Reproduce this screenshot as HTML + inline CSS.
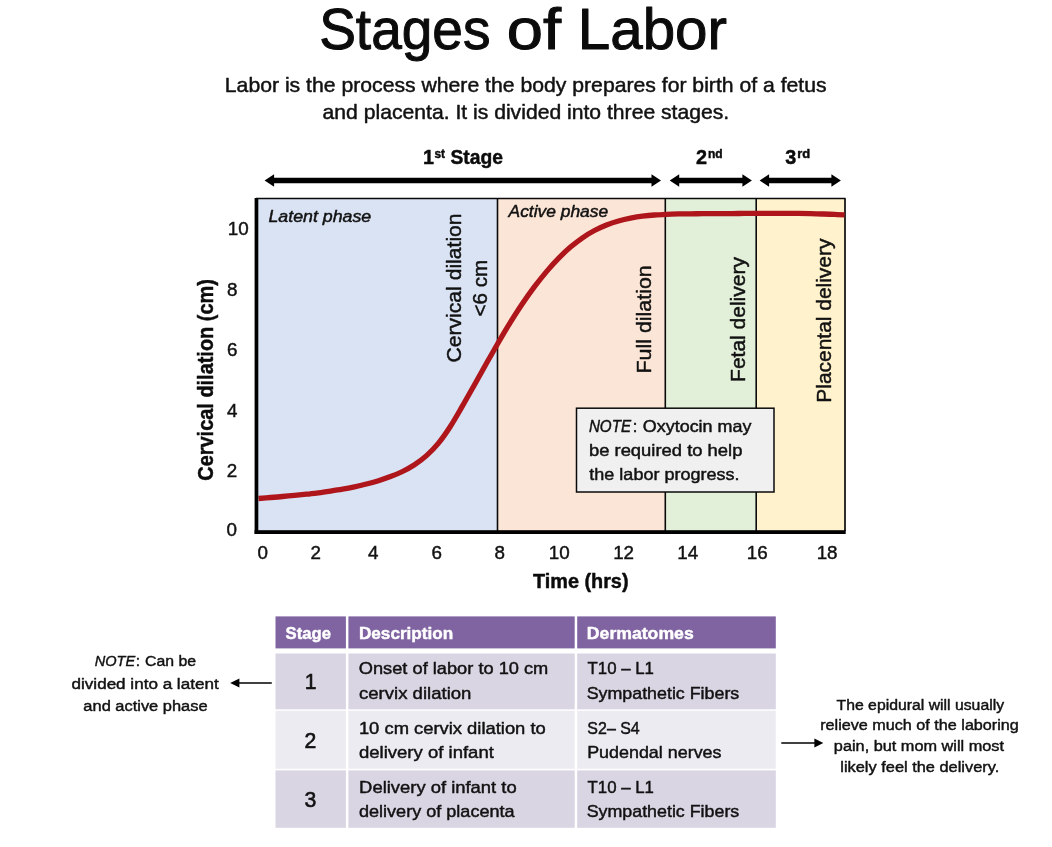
<!DOCTYPE html>
<html lang="en"><head><meta charset="utf-8"><title>Stages of Labor</title>
<style>html,body{margin:0;padding:0;background:#fff}svg{display:block;filter:blur(0.4px)}text{font-family:'Liberation Sans', sans-serif;white-space:pre;paint-order:stroke;stroke-linejoin:round}</style></head><body>
<svg width="1052" height="847" viewBox="0 0 1052 847">
<rect width="1052" height="847" fill="#fff"/>
<rect x="256" y="198.5" width="241.5" height="332.5" fill="#dae3f3"/>
<rect x="497.5" y="198.5" width="167.8" height="332.5" fill="#fbe5d6"/>
<rect x="665.3" y="198.5" width="90.9" height="332.5" fill="#e2f0d9"/>
<rect x="756.2" y="198.5" width="88.8" height="332.5" fill="#fff2cc"/>
<line x1="497.5" y1="198.5" x2="497.5" y2="531" stroke="#0a0a0a" stroke-width="1.6"/>
<line x1="665.3" y1="198.5" x2="665.3" y2="531" stroke="#0a0a0a" stroke-width="1.6"/>
<line x1="756.2" y1="198.5" x2="756.2" y2="531" stroke="#0a0a0a" stroke-width="1.6"/>
<line x1="256" y1="198.5" x2="845.6" y2="198.5" stroke="#0a0a0a" stroke-width="1.6"/>
<line x1="845" y1="198.5" x2="845" y2="531" stroke="#0a0a0a" stroke-width="1.7"/>
<path d="M258.5,498.5 C260.5,498.3 266.5,497.8 270.5,497.5 C274.5,497.2 278.5,496.9 282.5,496.5 C286.5,496.1 290.5,495.8 294.5,495.4 C298.5,495.0 302.5,494.6 306.5,494.2 C310.5,493.8 314.5,493.3 318.5,492.8 C322.5,492.3 326.5,491.7 330.5,491.1 C334.5,490.5 338.5,489.9 342.5,489.2 C346.5,488.5 350.5,487.7 354.5,486.8 C358.5,485.9 362.5,485.0 366.5,484.0 C370.5,483.0 374.5,481.9 378.5,480.7 C382.5,479.5 386.5,478.1 390.5,476.6 C394.5,475.1 398.5,473.5 402.5,471.5 C406.5,469.5 410.5,467.3 414.5,464.7 C418.5,462.1 422.5,459.2 426.5,455.6 C430.5,452.0 434.5,448.0 438.5,443.1 C442.5,438.2 446.5,432.4 450.5,426.2 C454.5,420.0 458.5,412.8 462.5,405.9 C466.5,399.0 470.5,391.8 474.5,384.7 C478.5,377.6 482.5,370.4 486.5,363.3 C490.5,356.2 494.5,349.2 498.5,342.3 C502.5,335.4 506.5,328.6 510.5,322.2 C514.5,315.8 518.5,309.5 522.5,303.6 C526.5,297.7 530.5,292.0 534.5,286.7 C538.5,281.4 542.5,276.3 546.5,271.6 C550.5,266.9 554.5,262.5 558.5,258.4 C562.5,254.3 566.5,250.5 570.5,247.1 C574.5,243.7 578.5,240.6 582.5,237.8 C586.5,235.0 590.5,232.6 594.5,230.5 C598.5,228.4 602.5,226.6 606.5,225.0 C610.5,223.4 614.5,222.1 618.5,221.0 C622.5,219.9 626.5,219.0 630.5,218.2 C634.5,217.4 638.5,216.7 642.5,216.2 C646.5,215.7 650.5,215.3 654.5,215.0 C658.5,214.7 662.5,214.5 666.5,214.3 C670.5,214.1 674.5,214.0 678.5,213.9 C682.5,213.8 686.5,213.8 690.5,213.8 C694.5,213.8 698.5,213.7 702.5,213.7 C706.5,213.7 710.5,213.7 714.5,213.7 C718.5,213.7 722.5,213.6 726.5,213.6 C730.5,213.6 734.5,213.5 738.5,213.5 C742.5,213.5 746.5,213.4 750.5,213.4 C754.5,213.4 758.5,213.3 762.5,213.3 C766.5,213.3 770.5,213.3 774.5,213.3 C778.5,213.3 782.5,213.3 786.5,213.3 C790.5,213.3 794.5,213.3 798.5,213.4 C802.5,213.5 806.5,213.6 810.5,213.7 C814.5,213.8 818.5,213.9 822.5,214.0 C826.5,214.1 830.8,214.2 834.5,214.4 C838.2,214.6 842.8,214.8 844.5,214.9" fill="none" stroke="#ae161b" stroke-width="5.3" stroke-linejoin="round"/>
<rect x="254.6" y="198" width="3.7" height="336" fill="#000"/>
<rect x="254.6" y="530.2" width="591.1" height="3.8" fill="#000"/>
<rect x="576.5" y="408.2" width="197.5" height="83.8" fill="#f0f0f0" stroke="#0a0a0a" stroke-width="1.5"/>
<polygon fill="#000" points="264.6,180.4 274.1,174.2 274.1,177.7 651.5,177.7 651.5,174.2 661.0,180.4 651.5,186.7 651.5,183.2 274.1,183.2 274.1,186.7"/>
<polygon fill="#000" points="669.7,180.4 679.2,174.2 679.2,177.7 742.4,177.7 742.4,174.2 751.9,180.4 742.4,186.7 742.4,183.2 679.2,183.2 679.2,186.7"/>
<polygon fill="#000" points="759.6,180.4 769.1,174.2 769.1,177.7 831.4,177.7 831.4,174.2 840.9,180.4 831.4,186.7 831.4,183.2 769.1,183.2 769.1,186.7"/>
<rect x="275.5" y="616.4" width="70.4" height="32.0" fill="#8064a2"/>
<rect x="348.4" y="616.4" width="226.3" height="32.0" fill="#8064a2"/>
<rect x="577.2" y="616.4" width="198.6" height="32.0" fill="#8064a2"/>
<rect x="275.5" y="653.5" width="70.4" height="55.8" fill="#d9d5e3"/>
<rect x="348.4" y="653.5" width="226.3" height="55.8" fill="#d9d5e3"/>
<rect x="577.2" y="653.5" width="198.6" height="55.8" fill="#d9d5e3"/>
<rect x="275.5" y="710.8" width="70.4" height="58.0" fill="#ecebf2"/>
<rect x="348.4" y="710.8" width="226.3" height="58.0" fill="#ecebf2"/>
<rect x="577.2" y="710.8" width="198.6" height="58.0" fill="#ecebf2"/>
<rect x="275.5" y="770.4" width="70.4" height="57.4" fill="#d9d5e3"/>
<rect x="348.4" y="770.4" width="226.3" height="57.4" fill="#d9d5e3"/>
<rect x="577.2" y="770.4" width="198.6" height="57.4" fill="#d9d5e3"/>
<line x1="236" y1="683" x2="271.8" y2="683" stroke="#000" stroke-width="1.5"/>
<polygon points="230.2,683 239.4,678.6 239.4,687.4" fill="#000"/>
<line x1="781.3" y1="743" x2="816" y2="743" stroke="#000" stroke-width="1.5"/>
<polygon points="823.3,742.9 814.4,738.4 814.4,747.4" fill="#000"/>
<text id="t1" x="319.17" y="48.5" font-size="58" font-weight="normal" font-style="normal" fill="#0b0b0b" stroke="#0b0b0b" stroke-width="1.0" textLength="171.32" lengthAdjust="spacingAndGlyphs">Stages</text>
<text id="t2" x="506.89" y="48.5" font-size="58" font-weight="normal" font-style="normal" fill="#0b0b0b" stroke="#0b0b0b" stroke-width="1.0" textLength="54.26" lengthAdjust="spacingAndGlyphs">of</text>
<text id="t3" x="577.76" y="48.5" font-size="58" font-weight="normal" font-style="normal" fill="#0b0b0b" stroke="#0b0b0b" stroke-width="1.0" textLength="149.24" lengthAdjust="spacingAndGlyphs">Labor</text>
<text id="sub1" x="224.84" y="92.2" font-size="19.8" font-weight="normal" font-style="normal" fill="#111" stroke="#111" stroke-width="0.45" textLength="601.81" lengthAdjust="spacingAndGlyphs">Labor is the process where the body prepares for birth of a fetus</text>
<text id="sub2" x="322.58" y="119.2" font-size="19.8" font-weight="normal" font-style="normal" fill="#111" stroke="#111" stroke-width="0.45" textLength="406.64" lengthAdjust="spacingAndGlyphs">and placenta. It is divided into three stages.</text>
<text id="s1a" x="428.50" y="164.3" font-size="19.8" font-weight="bold" font-style="normal" fill="#0b0b0b" stroke="#0b0b0b" stroke-width="0.45" text-anchor="middle">1</text>
<text id="s1b" x="434.44" y="157.9" font-size="12.6" font-weight="bold" font-style="normal" fill="#0b0b0b" stroke="#0b0b0b" stroke-width="0.45" textLength="10.51" lengthAdjust="spacingAndGlyphs">st</text>
<text id="s1c" x="450.46" y="164.3" font-size="19.8" font-weight="bold" font-style="normal" fill="#0b0b0b" stroke="#0b0b0b" stroke-width="0.45" textLength="52.47" lengthAdjust="spacingAndGlyphs">Stage</text>
<text id="s2a" x="701.60" y="164.4" font-size="19.8" font-weight="bold" font-style="normal" fill="#0b0b0b" stroke="#0b0b0b" stroke-width="0.45" text-anchor="middle">2</text>
<text id="s2b" x="707.95" y="158.1" font-size="12.6" font-weight="bold" font-style="normal" fill="#0b0b0b" stroke="#0b0b0b" stroke-width="0.45" textLength="14.72" lengthAdjust="spacingAndGlyphs">nd</text>
<text id="s3a" x="790.75" y="164.4" font-size="19.8" font-weight="bold" font-style="normal" fill="#0b0b0b" stroke="#0b0b0b" stroke-width="0.45" text-anchor="middle">3</text>
<text id="s3b" x="797.25" y="158.1" font-size="12.6" font-weight="bold" font-style="normal" fill="#0b0b0b" stroke="#0b0b0b" stroke-width="0.45" textLength="12.91" lengthAdjust="spacingAndGlyphs">rd</text>
<text id="latent" x="268.47" y="221.7" font-size="16" font-weight="normal" font-style="italic" fill="#111" stroke="#111" stroke-width="0.45" textLength="102.72" lengthAdjust="spacingAndGlyphs">Latent phase</text>
<text id="active" x="508.58" y="217.2" font-size="16" font-weight="normal" font-style="italic" fill="#111" stroke="#111" stroke-width="0.45" textLength="99.55" lengthAdjust="spacingAndGlyphs">Active phase</text>
<text id="y10" x="238.15" y="235.2" font-size="18.8" font-weight="normal" font-style="normal" fill="#111" stroke="#111" stroke-width="0.45" text-anchor="middle">10</text>
<text id="y8" x="232.30" y="296.2" font-size="18.8" font-weight="normal" font-style="normal" fill="#111" stroke="#111" stroke-width="0.45" text-anchor="middle">8</text>
<text id="y6" x="232.30" y="356.4" font-size="18.8" font-weight="normal" font-style="normal" fill="#111" stroke="#111" stroke-width="0.45" text-anchor="middle">6</text>
<text id="y4" x="232.20" y="416.6" font-size="18.8" font-weight="normal" font-style="normal" fill="#111" stroke="#111" stroke-width="0.45" text-anchor="middle">4</text>
<text id="y2" x="231.90" y="476.9" font-size="18.8" font-weight="normal" font-style="normal" fill="#111" stroke="#111" stroke-width="0.45" text-anchor="middle">2</text>
<text id="y0" x="231.80" y="536.0" font-size="18.8" font-weight="normal" font-style="normal" fill="#111" stroke="#111" stroke-width="0.45" text-anchor="middle">0</text>
<text id="x0" x="262.70" y="559.2" font-size="18.8" font-weight="normal" font-style="normal" fill="#111" stroke="#111" stroke-width="0.45" text-anchor="middle">0</text>
<text id="x2" x="315.65" y="559.2" font-size="18.8" font-weight="normal" font-style="normal" fill="#111" stroke="#111" stroke-width="0.45" text-anchor="middle">2</text>
<text id="x4" x="373.35" y="559.2" font-size="18.8" font-weight="normal" font-style="normal" fill="#111" stroke="#111" stroke-width="0.45" text-anchor="middle">4</text>
<text id="x6" x="436.85" y="559.2" font-size="18.8" font-weight="normal" font-style="normal" fill="#111" stroke="#111" stroke-width="0.45" text-anchor="middle">6</text>
<text id="x8" x="499.70" y="559.2" font-size="18.8" font-weight="normal" font-style="normal" fill="#111" stroke="#111" stroke-width="0.45" text-anchor="middle">8</text>
<text id="x10" x="559.15" y="559.2" font-size="18.8" font-weight="normal" font-style="normal" fill="#111" stroke="#111" stroke-width="0.45" text-anchor="middle">10</text>
<text id="x12" x="623.60" y="559.2" font-size="18.8" font-weight="normal" font-style="normal" fill="#111" stroke="#111" stroke-width="0.45" text-anchor="middle">12</text>
<text id="x14" x="687.80" y="559.2" font-size="18.8" font-weight="normal" font-style="normal" fill="#111" stroke="#111" stroke-width="0.45" text-anchor="middle">14</text>
<text id="x16" x="757.20" y="559.2" font-size="18.8" font-weight="normal" font-style="normal" fill="#111" stroke="#111" stroke-width="0.45" text-anchor="middle">16</text>
<text id="x18" x="827.10" y="559.2" font-size="18.8" font-weight="normal" font-style="normal" fill="#111" stroke="#111" stroke-width="0.45" text-anchor="middle">18</text>
<text id="time" x="532.99" y="588.2" font-size="19.8" font-weight="bold" font-style="normal" fill="#0b0b0b" stroke="#0b0b0b" stroke-width="0.45" textLength="95.52" lengthAdjust="spacingAndGlyphs">Time (hrs)</text>
<text id="n1a" x="588.91" y="431.5" font-size="16.5" font-weight="normal" font-style="italic" fill="#111" stroke="#111" stroke-width="0.45" textLength="42.16" lengthAdjust="spacingAndGlyphs">NOTE</text>
<text id="n1b" x="635.00" y="431.5" font-size="16.5" font-weight="normal" font-style="normal" fill="#111" stroke="#111" stroke-width="0.45" text-anchor="middle">:</text>
<text id="n1c" x="642.89" y="431.5" font-size="16.5" font-weight="normal" font-style="normal" fill="#111" stroke="#111" stroke-width="0.45" textLength="108.51" lengthAdjust="spacingAndGlyphs">Oxytocin may</text>
<text id="n2" x="588.93" y="455.7" font-size="16.5" font-weight="normal" font-style="normal" fill="#111" stroke="#111" stroke-width="0.45" textLength="153.51" lengthAdjust="spacingAndGlyphs">be required to help</text>
<text id="n3" x="589.34" y="479.9" font-size="16.5" font-weight="normal" font-style="normal" fill="#111" stroke="#111" stroke-width="0.45" textLength="150.14" lengthAdjust="spacingAndGlyphs">the labor progress.</text>
<text id="th1" x="285.62" y="639.2" font-size="17" font-weight="bold" font-style="normal" fill="#fff" stroke="#fff" stroke-width="0.45" textLength="45.31" lengthAdjust="spacingAndGlyphs">Stage</text>
<text id="th2" x="358.94" y="639.2" font-size="17" font-weight="bold" font-style="normal" fill="#fff" stroke="#fff" stroke-width="0.45" textLength="94.33" lengthAdjust="spacingAndGlyphs">Description</text>
<text id="th3" x="586.84" y="639.2" font-size="17" font-weight="bold" font-style="normal" fill="#fff" stroke="#fff" stroke-width="0.45" textLength="106.90" lengthAdjust="spacingAndGlyphs">Dermatomes</text>
<text id="r1n" x="310.75" y="689.4" font-size="21.2" font-weight="normal" font-style="normal" fill="#111" stroke="#111" stroke-width="0.6" text-anchor="middle">1</text>
<text id="r1a" x="358.80" y="674.4" font-size="17" font-weight="normal" font-style="normal" fill="#111" stroke="#111" stroke-width="0.45" textLength="189.51" lengthAdjust="spacingAndGlyphs">Onset of labor to 10 cm</text>
<text id="r1b" x="358.96" y="699.2" font-size="17" font-weight="normal" font-style="normal" fill="#111" stroke="#111" stroke-width="0.45" textLength="112.50" lengthAdjust="spacingAndGlyphs">cervix dilation</text>
<text id="r1c" x="587.57" y="674.4" font-size="17" font-weight="normal" font-style="normal" fill="#111" stroke="#111" stroke-width="0.45" textLength="66.32" lengthAdjust="spacingAndGlyphs">T10 – L1</text>
<text id="r1d" x="586.70" y="699.2" font-size="17" font-weight="normal" font-style="normal" fill="#111" stroke="#111" stroke-width="0.45" textLength="152.57" lengthAdjust="spacingAndGlyphs">Sympathetic Fibers</text>
<text id="r2n" x="310.45" y="747.9" font-size="21.2" font-weight="normal" font-style="normal" fill="#111" stroke="#111" stroke-width="0.6" text-anchor="middle">2</text>
<text id="r2a" x="358.91" y="733.5" font-size="17" font-weight="normal" font-style="normal" fill="#111" stroke="#111" stroke-width="0.45" textLength="186.84" lengthAdjust="spacingAndGlyphs">10 cm cervix dilation to</text>
<text id="r2b" x="358.97" y="757.7" font-size="17" font-weight="normal" font-style="normal" fill="#111" stroke="#111" stroke-width="0.45" textLength="134.86" lengthAdjust="spacingAndGlyphs">delivery of infant</text>
<text id="r2c" x="587.35" y="733.5" font-size="17" font-weight="normal" font-style="normal" fill="#111" stroke="#111" stroke-width="0.45" textLength="52.39" lengthAdjust="spacingAndGlyphs">S2– S4</text>
<text id="r2d" x="587.15" y="757.7" font-size="17" font-weight="normal" font-style="normal" fill="#111" stroke="#111" stroke-width="0.45" textLength="134.39" lengthAdjust="spacingAndGlyphs">Pudendal nerves</text>
<text id="r3n" x="310.50" y="807.2" font-size="21.2" font-weight="normal" font-style="normal" fill="#111" stroke="#111" stroke-width="0.6" text-anchor="middle">3</text>
<text id="r3a" x="359.14" y="793.1" font-size="17" font-weight="normal" font-style="normal" fill="#111" stroke="#111" stroke-width="0.45" textLength="157.55" lengthAdjust="spacingAndGlyphs">Delivery of infant to</text>
<text id="r3b" x="358.96" y="817" font-size="17" font-weight="normal" font-style="normal" fill="#111" stroke="#111" stroke-width="0.45" textLength="155.65" lengthAdjust="spacingAndGlyphs">delivery of placenta</text>
<text id="r3c" x="587.57" y="793.1" font-size="17" font-weight="normal" font-style="normal" fill="#111" stroke="#111" stroke-width="0.45" textLength="66.32" lengthAdjust="spacingAndGlyphs">T10 – L1</text>
<text id="r3d" x="586.70" y="817" font-size="17" font-weight="normal" font-style="normal" fill="#111" stroke="#111" stroke-width="0.45" textLength="152.57" lengthAdjust="spacingAndGlyphs">Sympathetic Fibers</text>
<text id="l1a" x="94.78" y="666.4" font-size="15.5" font-weight="normal" font-style="italic" fill="#111" stroke="#111" stroke-width="0.45" textLength="40.45" lengthAdjust="spacingAndGlyphs">NOTE</text>
<text id="l1b" x="138.00" y="666.4" font-size="15.5" font-weight="normal" font-style="normal" fill="#111" stroke="#111" stroke-width="0.45" text-anchor="middle">:</text>
<text id="l1c" x="145.09" y="666.4" font-size="15.5" font-weight="normal" font-style="normal" fill="#111" stroke="#111" stroke-width="0.45" textLength="51.01" lengthAdjust="spacingAndGlyphs">Can be</text>
<text id="l2" x="71.53" y="689.0" font-size="15.5" font-weight="normal" font-style="normal" fill="#111" stroke="#111" stroke-width="0.45" textLength="147.13" lengthAdjust="spacingAndGlyphs">divided into a latent</text>
<text id="l3" x="83.39" y="710.8" font-size="15.5" font-weight="normal" font-style="normal" fill="#111" stroke="#111" stroke-width="0.45" textLength="124.14" lengthAdjust="spacingAndGlyphs">and active phase</text>
<text id="e1" x="836.55" y="710" font-size="15.3" font-weight="normal" font-style="normal" fill="#111" stroke="#111" stroke-width="0.45" textLength="167.54" lengthAdjust="spacingAndGlyphs">The epidural will usually</text>
<text id="e2" x="820.22" y="730.2" font-size="15.3" font-weight="normal" font-style="normal" fill="#111" stroke="#111" stroke-width="0.45" textLength="198.59" lengthAdjust="spacingAndGlyphs">relieve much of the laboring</text>
<text id="e3" x="833.89" y="750.8" font-size="15.3" font-weight="normal" font-style="normal" fill="#111" stroke="#111" stroke-width="0.45" textLength="170.08" lengthAdjust="spacingAndGlyphs">pain, but mom will most</text>
<text id="e4" x="840.29" y="771.5" font-size="15.3" font-weight="normal" font-style="normal" fill="#111" stroke="#111" stroke-width="0.45" textLength="158.99" lengthAdjust="spacingAndGlyphs">likely feel the delivery.</text>
<text id="vy" transform="translate(212.5,480.71) rotate(-90)" font-size="21.3" font-weight="bold" fill="#0b0b0b" stroke="#0b0b0b" stroke-width="0.45" textLength="201.61" lengthAdjust="spacingAndGlyphs">Cervical dilation (cm)</text>
<text id="vc1" transform="translate(460.8,362.51) rotate(-90)" font-size="19.8" font-weight="normal" fill="#111" stroke="#111" stroke-width="0.45" textLength="149.10" lengthAdjust="spacingAndGlyphs">Cervical dilation</text>
<text id="vc2" transform="translate(486.6,316.39) rotate(-90)" font-size="19.8" font-weight="normal" fill="#111" stroke="#111" stroke-width="0.45" textLength="56.59" lengthAdjust="spacingAndGlyphs">&lt;6 cm</text>
<text id="vfull" transform="translate(650.9,373.44) rotate(-90)" font-size="19.8" font-weight="normal" fill="#111" stroke="#111" stroke-width="0.45" textLength="108.13" lengthAdjust="spacingAndGlyphs">Full dilation</text>
<text id="vfetal" transform="translate(744.6,381.92) rotate(-90)" font-size="19.8" font-weight="normal" fill="#111" stroke="#111" stroke-width="0.45" textLength="124.84" lengthAdjust="spacingAndGlyphs">Fetal delivery</text>
<text id="vplac" transform="translate(830.5,402.66) rotate(-90)" font-size="19.8" font-weight="normal" fill="#111" stroke="#111" stroke-width="0.45" textLength="164.09" lengthAdjust="spacingAndGlyphs">Placental delivery</text>
</svg></body></html>
